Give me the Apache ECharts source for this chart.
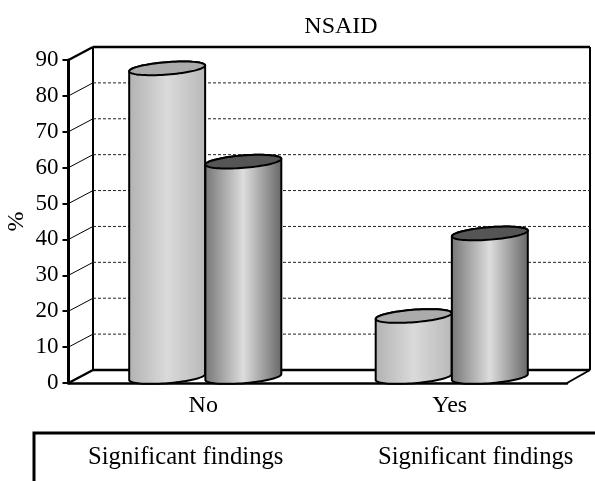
<!DOCTYPE html>
<html><head><meta charset="utf-8">
<style>html,body{margin:0;padding:0;background:#fff}#c{width:595px;height:481px}</style>
<script src="https://cdn.jsdelivr.net/npm/echarts@6/dist/echarts.min.js"></script>
</head><body><div id="c"></div>
<script>
const categories = ['No', 'Yes'];
const lightSeries = [86, 17];
const darkSeries = [60, 40];
const yTicks = [0, 10, 20, 30, 40, 50, 60, 70, 80, 90];
const legendLabels = ['Significant findings', 'Significant findings'];
const titleText = 'NSAID';
const yName = '%';

const FONT = '"Liberation Serif","Times New Roman",serif';
const DEPTH_X = 23, DEPTH_Y = 13;       // oblique floor depth
const chart = echarts.init(document.getElementById('c'), null, {renderer: 'canvas'});

function wallGrid(params, api) {
  const v = api.value(0), cs = params.coordSys;
  const y = api.coord([0, v])[1], x0 = cs.x, x1 = cs.x + cs.width;
  const bx = x0 + DEPTH_X + 1.5, by = y - DEPTH_Y;
  const children = [];
  if (v > 0 && v < 90) {
    children.push({type: 'line', shape: {x1: x0, y1: y, x2: bx, y2: by}, style: {stroke: '#000', lineWidth: 1}});
    children.push({type: 'line', shape: {x1: bx, y1: by, x2: x1 + DEPTH_X, y2: by},
      style: {stroke: '#222', lineWidth: 1, lineDash: [3, 2]}});
  } else {
    children.push({type: 'line', shape: {x1: x0, y1: y, x2: bx, y2: by}, style: {stroke: '#000', lineWidth: 2.5}});
    children.push({type: 'line', shape: {x1: bx, y1: by, x2: x1 + DEPTH_X, y2: by}, style: {stroke: '#000', lineWidth: 2.5}});
    if (v === 0) {
      const top = api.coord([0, 90])[1] - DEPTH_Y;
      children.push({type: 'line', shape: {x1: bx, y1: by, x2: bx, y2: top}, style: {stroke: '#000', lineWidth: 2}});
      children.push({type: 'line', shape: {x1: x1 + DEPTH_X, y1: by, x2: x1 + DEPTH_X, y2: top}, style: {stroke: '#000', lineWidth: 2}});
      children.push({type: 'line', shape: {x1: x1, y1: y, x2: x1 + DEPTH_X, y2: by}, style: {stroke: '#000', lineWidth: 2}});
    }
  }
  return {type: 'group', children};
}

function ellipsePts(cx, cy, a, b, tilt, from, to, n) {
  const pts = [], c = Math.cos(tilt), s = Math.sin(tilt);
  for (let i = 0; i <= n; i++) {
    const t = from + (to - from) * i / n;
    const ex = a * Math.cos(t), ey = b * Math.sin(t);
    pts.push([cx + ex * c - ey * s, cy + ex * s + ey * c]);
  }
  return pts;
}

function cylinder(side, edgeL, edgeR, mid, cap) {
  return function (params, api) {
    const band = api.size([1, 0])[0];
    const a = band * 0.1545;
    const cx = api.coord([api.value(0), 0])[0] + 2 + side * a;
    const y0 = api.coord([0, 0])[1] - 6;
    const yT = api.coord([0, api.value(1)])[1] - 6;
    const tilt = -4.5 * Math.PI / 180, b = 6.2;
    const bottom = ellipsePts(cx, y0, a, b, tilt, 0, Math.PI, 40);
    const topArc = ellipsePts(cx, yT, a, b, tilt, Math.PI, 2 * Math.PI, 40);
    const body = bottom.concat(topArc);
    const grad = new echarts.graphic.LinearGradient(0, 0, 1, 0, [
      {offset: 0, color: edgeL}, {offset: 0.5, color: mid}, {offset: 1, color: edgeR}]);
    return {type: 'group', children: [
      {type: 'polygon', shape: {points: body}, style: {fill: grad, stroke: '#000', lineWidth: 2}},
      {type: 'polygon', shape: {points: ellipsePts(cx, yT, a, b, tilt, 0, 2 * Math.PI, 80)},
        style: {fill: cap, stroke: '#000', lineWidth: 2}}
    ]};
  };
}

const option = {
  animation: false,
  backgroundColor: '#fff',
  title: {text: titleText, left: 336, top: 10, textAlign: 'center',
    textStyle: {fontFamily: FONT, fontSize: 24, fontWeight: 'normal', color: '#000'}},
  grid: [
    {left: 68.5, top: 60, width: 498.5, height: 323, outerBoundsMode: 'none'},
    {left: 80, top: 60, width: 493, height: 323, outerBoundsMode: 'none'}
  ],
  xAxis: [
    {type: 'category', gridIndex: 0, data: categories, boundaryGap: true,
      axisLine: {lineStyle: {color: '#000', width: 2.5}},
      axisTick: {length: 6, lineStyle: {color: '#000', width: 2}},
      axisLabel: {show: false}, splitLine: {show: false}},
    {type: 'category', gridIndex: 1, data: categories, boundaryGap: true,
      axisLine: {show: false}, axisTick: {show: false},
      axisLabel: {margin: 11, fontFamily: FONT, fontSize: 24, color: '#000'}}
  ],
  yAxis: [
    {type: 'value', gridIndex: 0, min: 0, max: 90, interval: 10, name: yName,
      nameLocation: 'middle', nameGap: 40, nameRotate: 90, nameMoveOverlap: false,
      nameTextStyle: {fontFamily: FONT, fontSize: 24, color: '#000'},
      axisLine: {show: true, lineStyle: {color: '#000', width: 3}},
      axisTick: {show: true, length: 6, lineStyle: {color: '#000', width: 2}},
      axisLabel: {margin: 10, fontFamily: FONT, fontSize: 23, color: '#000'},
      splitLine: {show: false}},
    {type: 'value', gridIndex: 1, min: 0, max: 90, interval: 10, show: false, splitLine: {show: false}}
  ],
  series: [
    {type: 'custom', xAxisIndex: 0, yAxisIndex: 0, z: 1, silent: true, renderItem: wallGrid,
      data: yTicks.map(v => [v]), encode: {y: 0}},
    {type: 'custom', name: legendLabels[0], xAxisIndex: 1, yAxisIndex: 1, z: 2, silent: true,
      renderItem: cylinder(-1, '#b2b2b2', '#b8b8b8', '#dadada', '#ababab'),
      data: categories.map((c, i) => [i, lightSeries[i]]), encode: {x: 0, y: 1}},
    {type: 'custom', name: legendLabels[1], xAxisIndex: 1, yAxisIndex: 1, z: 3, silent: true,
      renderItem: cylinder(1, '#757575', '#666666', '#dddddd', '#555555'),
      data: categories.map((c, i) => [i, darkSeries[i]]), encode: {x: 0, y: 1}}
  ],
  graphic: [
    {type: 'polyline', silent: true, shape: {points: [[34, 481], [34, 433], [595, 433]]},
      style: {fill: 'none', stroke: '#000', lineWidth: 3}},
    {type: 'text', left: 88, top: 445, style: {text: legendLabels[0], fontFamily: FONT, fontSize: 24.7, fill: '#000'}},
    {type: 'text', left: 378, top: 445, style: {text: legendLabels[1], fontFamily: FONT, fontSize: 24.7, fill: '#000'}}
  ]
};
chart.setOption(option);
</script></body></html>
